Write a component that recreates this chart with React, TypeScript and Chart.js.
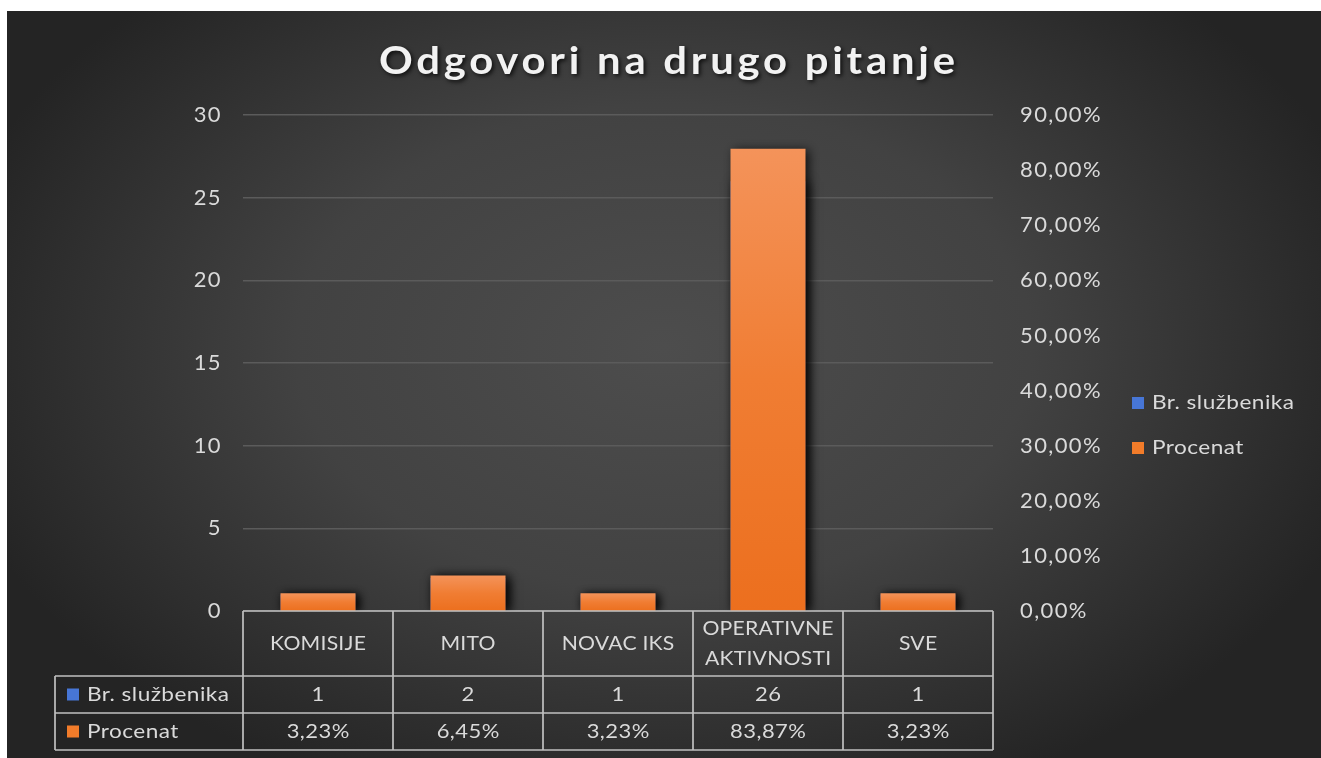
import React, { useEffect, useRef } from 'react';
import { Chart, registerables } from 'chart.js';

Chart.register(...registerables);

// ---- data ----
const title = 'Odgovori na drugo pitanje';
const categories: (string | string[])[] = ['KOMISIJE', 'MITO', 'NOVAC IKS', ['OPERATIVNE', 'AKTIVNOSTI'], 'SVE'];
const seriesNames = ['Br. službenika', 'Procenat'];
const brSluzbenika = [1, 2, 1, 26, 1];
const procenat = [3.23, 6.45, 3.23, 83.87, 3.23];
const leftAxisMax = 30;
const leftAxisStep = 5;
const rightAxisMax = 90;
const rightAxisStep = 10;

const W = 1314;
const H = 747;
const FONT = 'Lato, "Open Sans", "DejaVu Sans", sans-serif';
const TEXT = '#dadada';
const BLUE = '#4776d6';
const ORANGE = '#f27c2a';
const LINE = '#c0c0c0';

const fmtPct = (v: number) => v.toFixed(2).replace('.', ',') + '%';

function drawText(
  ctx: CanvasRenderingContext2D,
  s: string,
  x: number,
  y: number,
  align: CanvasTextAlign,
  font: string,
  ls: number,
  color: string,
  sx = 1.1
) {
  ctx.save();
  ctx.font = font;
  (ctx as any).letterSpacing = ls + 'px';
  ctx.textAlign = align;
  ctx.textBaseline = 'middle';
  ctx.fillStyle = color;
  const dx = align === 'center' ? ls / 2 : 0;
  ctx.translate(x, y);
  ctx.scale(sx, 1);
  ctx.fillText(s, dx, 0);
  ctx.restore();
}

export default function App() {
  const ref = useRef<HTMLCanvasElement>(null);

  useEffect(() => {
    const canvas = ref.current;
    if (!canvas) return;

    const bgPlugin = {
      id: 'bg',
      beforeDraw(chart: any) {
        const { ctx, width, height } = chart;
        ctx.save();
        const cx = width / 2;
        const cy = height * 0.45;
        const ry = 0.66;
        ctx.translate(cx, cy);
        ctx.scale(1, ry);
        const g = ctx.createRadialGradient(0, 0, 0, 0, 0, width * 0.56);
        g.addColorStop(0, '#4d4d4d');
        g.addColorStop(0.5, '#424242');
        g.addColorStop(1, '#242424');
        ctx.fillStyle = g;
        ctx.fillRect(-cx, -cy / ry - 10, width, height / ry + 20);
        ctx.restore();
        (ctx as any).letterSpacing = '1.4px';
      },
    };

    const shadowPlugin = {
      id: 'barShadow',
      beforeDatasetsDraw(chart: any) {
        const c = chart.ctx;
        c.save();
        c.shadowColor = 'rgba(0,0,0,0.75)';
        c.shadowBlur = 10;
        c.shadowOffsetX = 3;
        c.shadowOffsetY = 1;
      },
      afterDatasetsDraw(chart: any) {
        chart.ctx.restore();
      },
    };

    const overlayPlugin = {
      id: 'overlay',
      afterDraw(chart: any) {
        const ctx: CanvasRenderingContext2D = chart.ctx;
        const area = chart.chartArea;
        const xs = chart.scales.x;
        ctx.save();
        (ctx as any).letterSpacing = '0px';

        // Title
        ctx.save();
        const tFont = `bold 38px ${FONT}`;
        const tsx = 1.1;
        ctx.font = tFont;
        const natural = ctx.measureText(title).width;
        const target = 576;
        const ls = Math.max(0, (target / tsx - natural) / (title.length - 1));
        ctx.shadowColor = 'rgba(0,0,0,0.75)';
        ctx.shadowBlur = 4;
        ctx.shadowOffsetX = 2;
        ctx.shadowOffsetY = 2;
        ctx.font = tFont;
        (ctx as any).letterSpacing = ls + 'px';
        ctx.textAlign = 'center';
        ctx.textBaseline = 'alphabetic';
        ctx.fillStyle = '#f2f2f2';
        ctx.translate(W / 2 + 3, 63);
        ctx.scale(tsx, 1);
        ctx.fillText(title, ls / 2, 0);
        ctx.restore();

        // Data table
        const n = categories.length;
        const colW = (area.right - area.left) / n;
        const top = area.bottom;
        const r1 = top + 65;
        const r2 = r1 + 37;
        const r3 = r2 + 37;
        const leftX = 48;

        ctx.strokeStyle = LINE;
        ctx.lineWidth = 1.7;
        ctx.beginPath();
        ctx.moveTo(area.left, top);
        ctx.lineTo(area.right, top);
        for (const yy of [r1, r2, r3]) {
          ctx.moveTo(leftX, yy);
          ctx.lineTo(area.right, yy);
        }
        ctx.moveTo(leftX, r1);
        ctx.lineTo(leftX, r3);
        for (let i = 0; i <= n; i++) {
          const x = area.left + i * colW;
          ctx.moveTo(x, top);
          ctx.lineTo(x, r3);
        }
        ctx.stroke();

        const tf = `20px ${FONT}`;
        categories.forEach((c, i) => {
          const cx = xs.getPixelForValue(i);
          const lines = Array.isArray(c) ? c : [c];
          const mid = (top + r1) / 2;
          lines.forEach((ln, k) => {
            const y = mid + (k - (lines.length - 1) / 2) * 30;
            drawText(ctx, ln, cx, y, 'center', tf, 0.2, TEXT, 1.06);
          });
          drawText(ctx, String(brSluzbenika[i]), cx, (r1 + r2) / 2, 'center', tf, 0.4, TEXT);
          drawText(ctx, fmtPct(procenat[i]), cx, (r2 + r3) / 2, 'center', tf, 0.4, TEXT);
        });

        // Row labels
        const rowColors = [BLUE, ORANGE];
        [(r1 + r2) / 2, (r2 + r3) / 2].forEach((yy, k) => {
          ctx.fillStyle = rowColors[k];
          ctx.fillRect(60, yy - 6, 12, 12);
          drawText(ctx, seriesNames[k], 80, yy, 'left', tf, 0.4, TEXT, 1.13);
        });

        // Legend
        [392, 437].forEach((yy, k) => {
          ctx.fillStyle = rowColors[k];
          ctx.fillRect(1125, yy - 6, 12, 12);
          drawText(ctx, seriesNames[k], 1145, yy, 'left', tf, 0.4, TEXT, 1.13);
        });

        ctx.restore();
      },
    };

    const orangeFill = (c: any) => {
      const chart = c.chart;
      if (c.type !== 'data' || !chart.chartArea) return ORANGE;
      const ys = chart.scales.y1;
      const t = ys.getPixelForValue(c.raw as number);
      const b = ys.getPixelForValue(0);
      if (!isFinite(t) || !isFinite(b) || b - t < 1) return ORANGE;
      const g = chart.ctx.createLinearGradient(0, t, 0, b);
      g.addColorStop(0, '#f4935a');
      g.addColorStop(0.5, '#f07d33');
      g.addColorStop(1, '#ec6f1e');
      return g;
    };

    const chart = new Chart(canvas, {
      type: 'bar',
      data: {
        labels: categories as any,
        datasets: [
          {
            label: seriesNames[0],
            data: brSluzbenika,
            yAxisID: 'y',
            backgroundColor: BLUE,
            order: 2,
            grouped: false,
            categoryPercentage: 1,
            barPercentage: 0.5,
          } as any,
          {
            label: seriesNames[1],
            data: procenat,
            yAxisID: 'y1',
            backgroundColor: orangeFill,
            order: 1,
            grouped: false,
            categoryPercentage: 1,
            barPercentage: 0.5,
          } as any,
        ],
      },
      options: {
        responsive: false,
        animation: false,
        devicePixelRatio: 1,
        events: [],
        layout: { padding: { top: 104, bottom: 147, left: 0, right: 0 } },
        plugins: {
          legend: { display: false },
          title: { display: false },
          tooltip: { enabled: false },
        },
        scales: {
          x: { display: false },
          y: {
            position: 'left',
            min: 0,
            max: leftAxisMax,
            ticks: {
              stepSize: leftAxisStep,
              color: TEXT,
              font: { family: FONT, size: 22 },
              padding: 21,
            },
            grid: { color: '#5b5b5b', lineWidth: 1.5, drawTicks: false },
            border: { display: false },
            afterFit(s: any) {
              s.width = 236;
            },
          },
          y1: {
            position: 'right',
            min: 0,
            max: rightAxisMax,
            ticks: {
              stepSize: rightAxisStep,
              color: TEXT,
              font: { family: FONT, size: 22 },
              padding: 27,
              callback: (v: any) => fmtPct(Number(v)),
            },
            grid: { display: false, drawTicks: false },
            border: { display: false },
            afterFit(s: any) {
              s.width = 328;
            },
          },
        } as any,
      },
      plugins: [bgPlugin, shadowPlugin, overlayPlugin],
    });

    return () => chart.destroy();
  }, []);

  return (
    <div style={{ position: 'absolute', left: 7, top: 11, width: W, height: H }}>
      <canvas ref={ref} width={W} height={H} style={{ display: 'block', width: W, height: H }} />
    </div>
  );
}
